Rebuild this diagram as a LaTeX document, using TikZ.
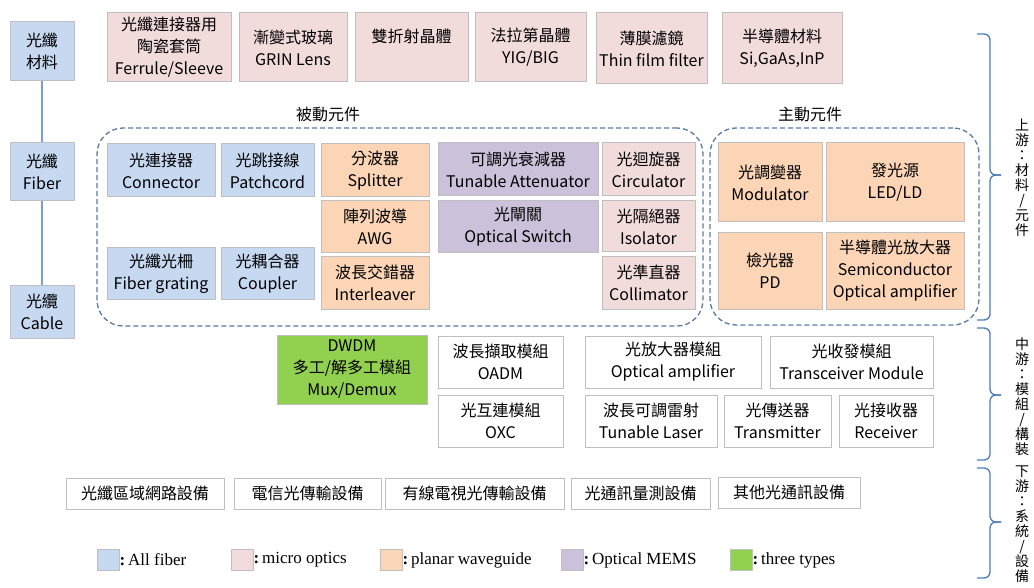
\documentclass[tikz,border=0pt]{standalone}
\usepackage{fontspec}
\setmainfont{Noto Sans CJK TC}
\newfontfamily\lgd{Liberation Serif}
\definecolor{cblue}{HTML}{C6D9F1}
\definecolor{cpink}{HTML}{F2DCDB}
\definecolor{corange}{HTML}{FBD5B5}
\definecolor{cpurple}{HTML}{CCC1DA}
\definecolor{cgreen}{HTML}{92D050}
\definecolor{cborder}{HTML}{BFBFBF}
\definecolor{cdash}{HTML}{5A7AA6}
\definecolor{cbrace}{HTML}{4A7EBB}
\definecolor{cline}{HTML}{7BA0D4}
\tikzset{
  box/.style={draw=cborder, line width=1pt, align=center, inner sep=0pt, text=black,
    font=\fontsize{16}{22}\selectfont},
  grp/.style={draw=cdash, line width=1.3pt, dash pattern=on 5pt off 3pt, rounded corners=26pt, fill=none},
  lbl/.style={inner sep=0pt, font=\fontsize{16}{20}\selectfont},
  vlab/.style={inner sep=0pt, align=center, font=\fontsize{14}{15}\selectfont},
  vline/.style={draw=cline, line width=1.3pt},
  brc/.style={draw=cbrace, line width=1.3pt, rounded corners=6pt},
  lgsq/.style={draw=cborder, line width=1pt, inner sep=0pt, minimum width=22pt, minimum height=21pt},
  lgtx/.style={inner sep=0pt, anchor=west, font=\lgd\fontsize{17}{19}\selectfont}
}
\newcommand\bx[7]{\node[box,#6,minimum width={(#4-#2)*1pt},minimum height={(#5-#3)*1pt}] (#1) at ({(#2+#4)/2},{(#3+#5)/2}) {#7};}
\begin{document}
\begin{tikzpicture}[x=1pt,y=-1pt]
\fill[white] (0,0) rectangle (1034,588);
\useasboundingbox (0,0) rectangle (1034,588);

% left column
\bx{m1}{10}{22}{74}{81}{fill=cblue}{光纖\\材料}
\bx{m2}{10}{143}{74}{201}{fill=cblue}{光纖\\Fiber}
\bx{m3}{10}{286}{74}{338}{fill=cblue}{光纜\\Cable}
\draw[vline] (m1.south) -- (m2.north);
\draw[vline] (m2.south) -- (m3.north);

% top row
\bx{t1}{107}{13}{231}{82}{fill=cpink}{光纖連接器用\\陶瓷套筒\\Ferrule/Sleeve}
\bx{t2}{239}{13}{347}{82}{fill=cpink}{漸變式玻璃\\GRIN Lens}
\bx{t3}{355}{13}{468}{82}{fill=cpink}{雙折射晶體\\\phantom{光}}
\bx{t4}{475}{13}{586}{82}{fill=cpink}{法拉第晶體\\YIG/BIG}
\bx{t5}{596}{13}{707}{84}{fill=cpink}{薄膜濾鏡\\Thin film filter}
\bx{t6}{722}{13}{842}{84}{fill=cpink}{半導體材料\\Si,GaAs,InP}

\node[lbl] (lp) at (328,114) {被動元件};
\node[lbl] (la) at (810,114) {主動元件};

% groups
\bx{gp}{97}{128}{703}{326}{grp}{}
\bx{ga}{710}{128}{979}{325}{grp}{}

% passive
\bx{p1}{107}{144}{215}{197}{fill=cblue}{光連接器\\Connector}
\bx{p2}{221}{144}{314}{197}{fill=cblue}{光跳接線\\Patchcord}
\bx{p3}{321}{144}{429}{197}{fill=corange}{分波器\\Splitter}
\bx{p4}{321}{201}{429}{253}{fill=corange}{陣列波導\\AWG}
\bx{p5}{321}{257}{429}{309}{fill=corange}{波長交錯器\\Interleaver}
\bx{p6}{107}{248}{215}{300}{fill=cblue}{光纖光柵\\Fiber grating}
\bx{p7}{221}{248}{314}{300}{fill=cblue}{光耦合器\\Coupler}
\bx{p8}{438}{143}{598}{196}{fill=cpurple}{可調光衰減器\\Tunable Attenuator}
\bx{p9}{438}{201}{598}{253}{fill=cpurple}{光閘關\\Optical Switch}
\bx{p10}{602}{143}{695}{196}{fill=cpink}{光迴旋器\\Circulator}
\bx{p11}{602}{201}{695}{252}{fill=cpink}{光隔絕器\\Isolator}
\bx{p12}{602}{257}{695}{309}{fill=cpink}{光準直器\\Collimator}

% active
\bx{a1}{718}{143}{822}{222}{fill=corange}{光調變器\\Modulator}
\bx{a2}{826}{143}{964}{222}{fill=corange}{發光源\\LED/LD}
\bx{a3}{718}{233}{822}{309}{fill=corange}{檢光器\\PD}
\bx{a4}{826}{233}{964}{309}{fill=corange}{半導體光放大器\\Semiconductor\\Optical amplifier}

% modules
\bx{d1}{277}{335}{427}{404}{fill=cgreen}{DWDM\\多工/解多工模組\\Mux/Demux}
\bx{d2}{438}{336}{563}{388}{fill=white}{波長擷取模組\\OADM}
\bx{d3}{438}{395}{563}{447}{fill=white}{光互連模組\\OXC}
\bx{d4}{585}{336}{761}{388}{fill=white}{光放大器模組\\Optical amplifier}
\bx{d5}{770}{336}{933}{388}{fill=white}{光收發模組\\Transceiver Module}
\bx{d6}{585}{395}{717}{447}{fill=white}{波長可調雷射\\Tunable Laser}
\bx{d7}{724}{395}{831}{447}{fill=white}{光傳送器\\Transmitter}
\bx{d8}{839}{395}{933}{447}{fill=white}{光接收器\\Receiver}

% systems
\bx{s1}{66}{478}{224}{509}{fill=white}{光纖區域網路設備}
\bx{s2}{234}{478}{381}{509}{fill=white}{電信光傳輸設備}
\bx{s3}{385}{478}{564}{509}{fill=white}{有線電視光傳輸設備}
\bx{s4}{571}{478}{710}{509}{fill=white}{光通訊量測設備}
\bx{s5}{718}{477}{860}{508}{fill=white}{其他光通訊設備}

% braces
\draw[brc] (977,34) -- (990,34) -- (990,175) -- (1001,175);
\draw[brc] (1001,175) -- (990,175) -- (990,320) -- (977,320);
\draw[brc] (977,328) -- (990,328) -- (990,395) -- (1001,395);
\draw[brc] (1001,395) -- (990,395) -- (990,460) -- (977,460);
\draw[brc] (977,468) -- (990,468) -- (990,522) -- (1001,522);
\draw[brc] (1001,522) -- (990,522) -- (990,578) -- (977,578);
\node[vlab] (u1) at (1022,178) {上\\游\\：\\材\\料\\/\\元\\件};
\node[vlab] (u2) at (1022,397) {中\\游\\：\\模\\組\\/\\構\\裝};
\node[vlab] (u3) at (1022,524) {下\\游\\：\\系\\統\\/\\設\\備};

% legend
\node[lgsq, fill=cblue] (k1) at (108,560) {};
\node[lgtx] (k1t) at (k1.east) {\textbf{:}\,All fiber};
\node[lgsq, fill=cpink] (k2) at (242,560) {};
\node[lgtx] (k2t) at (k2.east) {\textbf{:}\,micro optics};
\node[lgsq, fill=corange] (k3) at (391,560) {};
\node[lgtx] (k3t) at (k3.east) {\textbf{:}\,planar waveguide};
\node[lgsq, fill=cpurple] (k4) at (572,560) {};
\node[lgtx] (k4t) at (k4.east) {\textbf{:}\,Optical MEMS};
\node[lgsq, fill=cgreen] (k5) at (741,560) {};
\node[lgtx] (k5t) at (k5.east) {\textbf{:}\,three types};
\end{tikzpicture}
\end{document}
